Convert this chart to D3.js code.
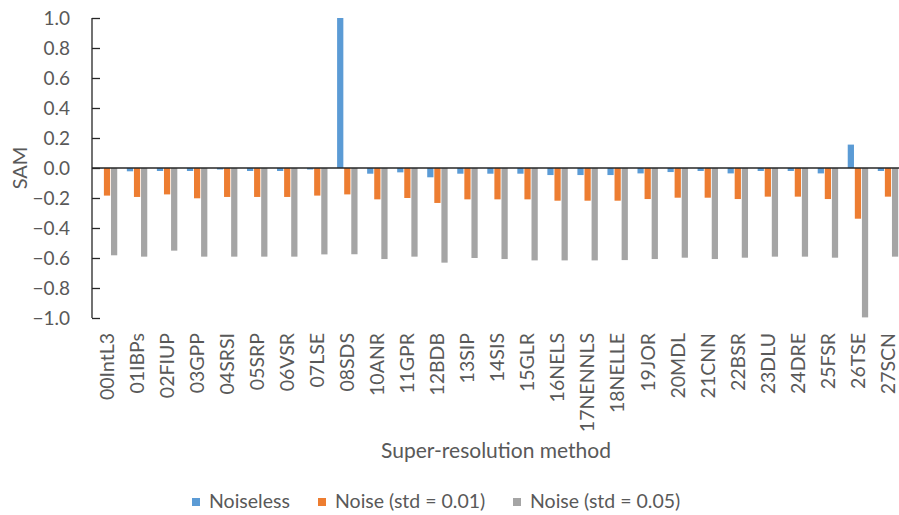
<!DOCTYPE html>
<html><head><meta charset="utf-8">
<script src="https://cdn.jsdelivr.net/npm/d3@7"></script>
<style>
html,body{margin:0;padding:0;background:#fff;}
text{font-family:Lato,"Noto Sans",sans-serif;fill:#595959;}
</style></head>
<body><svg id="chart" width="899" height="515"></svg>
<script>
const categories = ["00IntL3","01IBPs","02FIUP","03GPP","04SRSI","05SRP","06VSR","07LSE","08SDS","10ANR","11GPR","12BDB","13SIP","14SIS","15GLR","16NELS","17NENNLS","18NELLE","19JOR","20MDL","21CNN","22BSR","23DLU","24DRE","25FSR","26TSE","27SCN"];
const seriesNames = ["Noiseless","Noise (std = 0.01)","Noise (std = 0.05)"];
const noiseless = [-0.003,-0.022,-0.02,-0.02,-0.01,-0.02,-0.02,-0.01,1.0,-0.038,-0.029,-0.062,-0.038,-0.038,-0.038,-0.047,-0.047,-0.047,-0.036,-0.027,-0.02,-0.036,-0.02,-0.02,-0.036,0.156,-0.02];
const noise001 = [-0.184,-0.193,-0.176,-0.202,-0.193,-0.193,-0.193,-0.184,-0.176,-0.209,-0.2,-0.233,-0.209,-0.209,-0.209,-0.218,-0.218,-0.218,-0.207,-0.198,-0.198,-0.207,-0.191,-0.191,-0.207,-0.338,-0.191];
const noise005 = [-0.582,-0.591,-0.551,-0.591,-0.591,-0.591,-0.591,-0.576,-0.575,-0.607,-0.591,-0.631,-0.6,-0.607,-0.616,-0.616,-0.616,-0.614,-0.607,-0.598,-0.607,-0.598,-0.591,-0.591,-0.598,-0.996,-0.591];
const yTicks = [1.0,0.8,0.6,0.4,0.2,0.0,-0.2,-0.4,-0.6,-0.8,-1.0];
const colors = ["#5B9BD5","#ED7D31","#A5A5A5"];
const seriesValues = [noiseless, noise001, noise005];

const svg = d3.select("#chart");
const mLeft = 92, mRight = 903, mTop = 18, mBottom = 318;

const y = d3.scaleLinear().domain([-1, 1]).range([mBottom, mTop]);
const x0 = d3.scaleBand().domain(categories).range([mLeft, mRight]).paddingInner(0.32).paddingOuter(0.16);
const x1 = d3.scaleBand().domain(d3.range(3)).range([0, x0.bandwidth()]).paddingInner(0.12);

// bars
const groups = svg.append("g").selectAll("g").data(categories).join("g")
  .attr("transform", d => `translate(${x0(d)},0)`);
groups.selectAll("rect").data((d, i) => seriesValues.map((s, k) => ({k, v: s[i]})))
  .join("rect")
  .attr("x", d => x1(d.k))
  .attr("width", x1.bandwidth())
  .attr("y", d => y(Math.max(0, d.v)))
  .attr("height", d => Math.abs(y(d.v) - y(0)))
  .attr("fill", d => colors[d.k]);

// y axis
const yAxis = d3.axisLeft(y).tickValues(yTicks).tickSize(-8).tickPadding(22).tickFormat(d3.format(".1f"));
const ga = svg.append("g").attr("transform", `translate(${mLeft},0)`).call(yAxis);
ga.select(".domain").attr("stroke", "#262626").attr("stroke-width", 1.3).attr("d", `M0,${mTop}V${mBottom}`);
ga.selectAll(".tick line").attr("stroke", "#262626").attr("stroke-width", 1.3);
ga.selectAll(".tick text").attr("font-size", 19).attr("fill", "#595959").style("font-family", "Lato, sans-serif");

// zero line
svg.append("line").attr("x1", mLeft).attr("x2", 899).attr("y1", y(0)).attr("y2", y(0))
  .attr("stroke", "#262626").attr("stroke-width", 1.5);

// category labels
svg.append("g").selectAll("text").data(categories).join("text")
  .attr("transform", d => `translate(${x0(d) + x0.bandwidth()/2},333) rotate(-90)`)
  .attr("text-anchor", "end").attr("dy", "0.35em")
  .attr("font-size", 19.5).text(d => d);

// axis titles
svg.append("text").attr("transform", `translate(20,${y(0)}) rotate(-90)`)
  .attr("text-anchor", "middle").attr("dy", "0.35em").attr("font-size", 20).text("SAM");
svg.append("text").attr("x", 496).attr("y", 458).attr("text-anchor", "middle")
  .attr("font-size", 21).text("Super-resolution method");

// legend
const legendX = [192, 318, 513];
const lg = svg.append("g").selectAll("g").data(seriesNames).join("g")
  .attr("transform", (d, i) => `translate(${legendX[i]},0)`);
lg.append("rect").attr("x", 0).attr("y", 498).attr("width", 8).attr("height", 8).attr("fill", (d, i) => colors[i]);
lg.append("text").attr("x", 17).attr("y", 508).attr("font-size", 19.5).text(d => d);
</script></body></html>
